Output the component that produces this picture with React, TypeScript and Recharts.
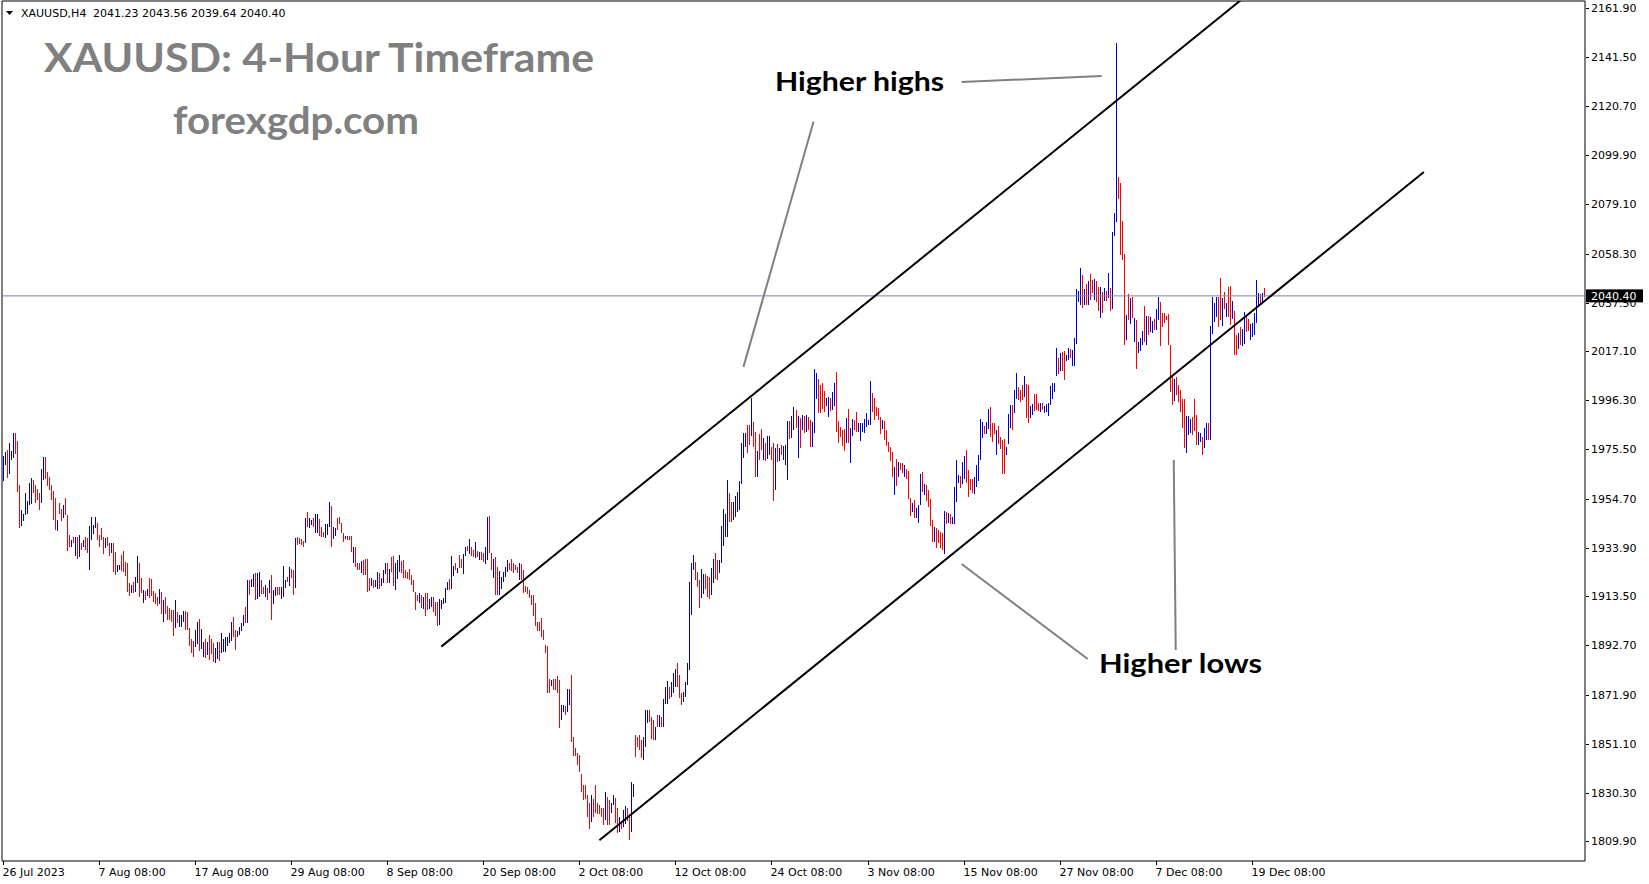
import React from 'react';
import { ComposedChart, Bar, XAxis, YAxis, ReferenceLine, ReferenceArea } from 'recharts';

// ---- H4 bars (high / low / up=1 blue, down=0 red) ----
const barHigh: number[] = [
  1972.7,1974.6,1975.3,1978.4,1974.8,1982.6,1982.6,1979.1,1960.5,1949.9,
  1948.2,1957.2,1953.8,1961.5,1963.6,1962.6,1960.5,1958.6,1957.2,1967.2,
  1972.3,1972.3,1966.1,1964.0,1960.5,1958.1,1954.8,1945.7,1953.0,1950.2,
  1952.0,1955.1,1947.8,1939.3,1937.2,1938.6,1938.6,1938.6,1939.3,1936.1,
  1937.2,1938.3,1937.9,1943.1,1946.8,1943.6,1946.8,1944.5,1939.3,1942.2,
  1938.3,1937.9,1938.3,1935.8,1935.8,1936.1,1932.2,1926.7,1926.7,1930.9,
  1932.6,1928.1,1927.6,1918.9,1918.1,1919.6,1921.7,1930.5,1927.4,1921.0,
  1916.1,1915.8,1916.4,1921.0,1920.6,1915.8,1915.0,1913.3,1916.4,1915.4,
  1911.9,1913.3,1909.3,1908.3,1907.6,1907.6,1911.9,1906.8,1905.5,1905.5,
  1907.3,1907.3,1906.9,1899.9,1895.2,1894.7,1899.2,1902.7,1903.7,1899.5,
  1894.3,1895.2,1894.0,1897.0,1895.5,1893.5,1891.5,1894.0,1894.0,1898.1,
  1895.5,1896.3,1896.3,1897.8,1902.7,1904.8,1899.2,1898.9,1900.6,1902.0,
  1905.5,1909.0,1920.3,1920.3,1920.6,1922.8,1923.4,1923.1,1923.8,1920.3,
  1917.5,1918.2,1916.8,1920.3,1922.4,1916.1,1917.2,1917.5,1917.5,1917.5,
  1926.2,1920.3,1921.7,1925.9,1924.8,1924.5,1937.9,1938.6,1937.9,1937.5,
  1936.9,1946.4,1949.1,1946.4,1945.7,1946.4,1948.2,1948.2,1945.9,1942.9,
  1940.6,1944.0,1944.0,1953.4,1951.6,1942.9,1942.2,1946.4,1946.8,1944.5,
  1940.3,1938.9,1938.9,1938.9,1938.9,1934.1,1934.4,1927.6,1927.4,1928.3,
  1928.8,1929.0,1929.0,1921.0,1921.0,1920.3,1920.3,1923.8,1923.4,1921.0,
  1924.5,1927.6,1927.4,1924.8,1930.2,1930.5,1927.4,1928.8,1930.9,1928.3,
  1928.8,1924.5,1923.8,1924.8,1922.4,1920.3,1915.4,1914.0,1915.0,1914.0,
  1913.3,1914.7,1914.7,1912.1,1913.3,1913.3,1911.2,1911.2,1912.1,1911.9,
  1912.6,1916.8,1919.6,1920.7,1930.5,1926.2,1927.4,1925.2,1930.9,1929.0,
  1931.3,1934.1,1934.7,1937.5,1934.1,1933.0,1936.5,1932.7,1932.3,1932.3,
  1931.9,1934.4,1947.1,1947.4,1931.6,1929.0,1930.2,1925.9,1924.2,
  1921.7,1923.8,1925.9,1928.7,1927.6,1929.0,1927.3,1926.6,1925.6,1927.3,
  1927.0,1924.5,1917.7,1917.2,1916.1,1913.9,1913.9,1910.4,1902.7,1902.7,
  1904.4,1899.1,1892.8,1892.4,1878.3,1878.0,1878.3,1878.3,1879.7,1878.0,
  1867.4,1867.4,1867.0,1874.1,1874.1,1880.1,1854.0,1849.1,1847.0,1846.3,
  1838.5,1833.6,1833.6,1829.4,1826.2,1829.4,1827.6,1833.6,1826.2,1825.2,
  1823.8,1823.8,1830.8,1828.7,1827.3,1825.9,1829.4,1828.0,1823.8,1820.2,
  1818.1,1823.1,1824.8,1823.8,1821.6,1835.0,1834.0,1854.8,1854.0,1854.8,
  1852.6,1854.0,1865.3,1865.3,1865.3,1862.5,1861.1,1858.3,1863.2,1863.2,
  1862.5,1870.2,1875.2,1877.7,1875.2,1877.3,1880.8,1882.9,1885.3,1880.1,
  1872.4,1873.1,1877.3,1885.3,1919.6,1927.3,1930.8,1928.0,1923.8,1920.3,
  1924.8,1922.8,1922.7,1922.0,1921.7,1925.2,1929.0,1931.8,1928.7,1928.7,
  1943.1,1950.2,1948.0,1962.6,
  1956.9,1953.4,1953.4,1955.8,1957.6,1962.3,1978.1,1982.3,1982.6,1985.8,
  1985.8,1997.1,1987.2,1983.0,1975.0,1982.0,1984.0,1980.2,1978.1,1981.2,
  1981.2,1976.6,1978.1,1976.0,1977.8,1976.0,1977.4,1977.0,1977.4,1987.6,
  1987.6,1989.6,1993.3,1992.1,1989.6,1988.6,1990.0,1989.6,1990.0,1989.0,
  1987.9,1987.2,2009.3,2007.6,2005.1,2002.7,2003.4,2000.3,1997.1,1997.8,
  1997.1,1999.9,2003.7,2008.2,1987.6,1985.1,1983.7,1984.0,1988.6,1992.4,
  1984.4,1988.2,1987.9,1991.4,1986.8,1986.5,1986.8,1988.2,1990.7,1987.9,
  2004.5,1999.5,1997.1,1993.3,1992.8,1989.0,1987.9,1987.6,1983.7,1978.8,
  1976.6,1974.5,1968.2,1971.3,1970.3,1969.9,1969.6,1968.9,1967.1,1966.5,
  1954.8,1952.7,1954.1,1950.6,1952.0,1965.1,1966.1,1960.9,1960.4,1958.3,
  1954.4,1945.6,1942.8,1942.1,1941.4,1940.7,1940.3,1949.6,1949.2,1948.7,
  1948.2,1947.1,1959.7,1971.0,1964.7,1964.2,1970.3,1972.7,1975.2,1966.8,
  1962.8,1962.8,1964.0,1968.9,1973.1,1988.2,1987.2,1985.4,1987.2,1992.4,
  1993.3,1986.8,1986.8,1983.7,1985.4,1980.9,1979.5,1979.8,1976.4,1990.5,
  1994.3,1994.3,2000.6,2007.9,2001.7,2000.6,2002.7,2006.5,2003.1,2002.7,
  1993.8,1994.7,1998.9,1998.9,1995.2,1995.2,1995.2,1993.8,1994.7,1995.0,
  2002.3,2003.7,2003.7,2018.2,2014.0,2016.1,2016.8,2017.2,2015.4,2018.2,
  2017.8,2017.5,2022.4,
  2043.2,2042.6,2052.0,2049.2,2043.2,2045.4,2046.8,2049.6,2047.1,2047.4,
  2046.8,2044.0,2044.3,2042.2,2043.6,2042.6,2049.9,2043.6,2067.5,2075.3,
  2147.1,2090.8,2088.2,2072.2,2058.1,2032.3,2041.2,2039.3,2039.8,2030.9,
  2030.2,2021.0,2022.4,2025.7,2036.1,2031.9,2031.9,2031.3,2029.9,2030.5,
  2034.7,2040.1,2038.0,2033.0,2033.3,2031.9,2032.7,2019.6,2006.2,2005.1,
  2006.2,2002.7,2000.6,1996.7,1996.7,1989.6,1989.6,1988.2,1989.3,1996.7,
  1990.0,1983.0,1982.6,1980.9,1984.4,1986.8,1986.5,2027.7,2040.1,2037.5,
  2040.1,2040.1,2047.8,2039.4,2042.2,2037.5,2044.3,2044.6,2038.4,2034.1,
  2023.8,2024.8,2027.4,2026.2,2033.7,2032.3,2030.5,2028.5,2029.1,2033.0,
  2047.1,2041.5,2041.2,2041.5,2043.56,
];

const barLow: number[] = [
  1962.3,1969.3,1963.6,1965.1,1970.8,1972.2,1973.9,1957.7,1942.4,1943.3,
  1945.4,1947.8,1948.5,1952.0,1952.4,1957.0,1952.7,1954.1,1949.9,1953.0,
  1962.6,1962.9,1960.0,1958.4,1954.1,1945.7,1941.2,1941.2,1948.5,1945.0,
  1946.4,1947.8,1932.7,1934.4,1934.4,1936.1,1930.5,1929.3,1930.2,1933.0,
  1934.4,1933.0,1931.6,1924.5,1937.2,1940.0,1942.2,1937.5,1934.4,1937.2,
  1931.3,1933.7,1934.7,1930.5,1931.6,1923.8,1922.4,1923.8,1924.5,1924.3,
  1923.8,1922.0,1915.4,1913.5,1914.9,1914.9,1915.4,1919.2,1913.0,1914.7,
  1910.5,1911.9,1913.3,1912.6,1913.3,1911.2,1910.2,1909.7,1910.2,1905.9,
  1902.7,1906.2,1903.4,1903.4,1902.7,1896.4,1899.9,1902.0,1900.3,1900.3,
  1902.7,1899.2,1899.2,1892.1,1889.3,1887.9,1892.1,1893.5,1890.0,1891.0,
  1888.0,1887.2,1888.5,1886.5,1889.0,1885.5,1885.2,1887.0,1886.0,1889.5,
  1890.0,1890.0,1892.5,1893.5,1894.7,1896.4,1890.8,1896.4,1897.1,1898.5,
  1900.9,1902.3,1902.3,1914.0,1917.2,1917.5,1911.9,1911.9,1913.3,1914.4,
  1914.7,1913.3,1911.9,1915.0,1903.4,1910.2,1913.3,1914.0,1914.0,1912.6,
  1913.0,1916.8,1919.6,1917.8,1921.0,1914.0,1916.6,1935.1,1935.5,1935.1,
  1934.4,1935.8,1942.9,1942.2,1943.6,1942.4,1940.0,1940.0,1938.9,1938.6,
  1938.6,1937.9,1939.3,1942.9,1934.4,1937.9,1938.9,1941.2,1944.0,1940.3,
  1936.5,1937.5,1937.2,1937.2,1932.3,1927.4,1925.9,1924.8,1924.3,1923.1,
  1922.4,1922.4,1915.0,1915.4,1917.5,1916.8,1917.5,1916.8,1916.8,1917.5,
  1919.2,1923.1,1918.9,1918.9,1923.8,1917.8,1916.1,1920.6,1923.8,1923.1,
  1921.0,1921.0,1921.0,1920.3,1918.2,1915.4,1907.6,1911.6,1910.7,1908.3,
  1908.3,1905.1,1907.6,1907.9,1909.0,1906.9,1905.1,1900.9,1900.9,1907.9,
  1910.2,1910.5,1916.4,1916.1,1916.4,1922.0,1924.3,1923.1,1925.2,1925.2,
  1922.8,1930.2,1932.7,1931.3,1930.2,1930.2,1929.9,1930.2,1928.8,1928.8,
  1928.1,1927.4,1928.8,1931.6,1924.3,1921.0,1914.0,1913.9,1913.9,
  1916.8,1919.6,1921.7,1923.8,1924.5,1923.8,1923.1,1924.5,1923.1,1920.3,
  1920.3,1914.9,1915.3,1914.4,1912.6,1909.7,1905.1,1900.6,1899.1,1898.9,
  1896.3,1894.9,1889.3,1872.4,1872.4,1875.5,1873.8,1873.5,1872.4,1857.6,
  1861.1,1864.6,1863.2,1864.2,1867.4,1851.9,1845.9,1845.6,1842.1,1839.3,
  1830.8,1827.3,1827.6,1820.2,1815.3,1818.1,1820.2,1821.6,1821.6,1821.6,
  1820.2,1816.7,1818.8,1816.7,1816.7,1821.6,1825.2,1817.4,1813.2,1813.9,
  1815.3,1816.0,1817.4,1818.1,1810.4,1813.9,1828.7,1845.6,1849.8,1848.4,
  1844.9,1844.2,1849.8,1859.7,1860.4,1853.3,1852.6,1852.6,1858.3,1858.3,
  1858.3,1858.3,1868.1,1868.1,1870.2,1871.0,1872.4,1875.2,1875.2,1870.2,
  1867.4,1868.9,1871.0,1875.9,1882.2,1905.5,1924.5,1920.3,1917.5,1908.3,
  1912.6,1914.4,1916.3,1913.2,1912.5,1913.9,1918.9,1921.0,1920.3,1923.1,
  1927.3,1934.4,1938.3,1938.3,
  1944.5,1944.9,1945.7,1947.1,1949.2,1949.9,1960.9,1971.7,1976.6,1973.8,
  1977.4,1980.9,1976.6,1964.0,1964.0,1971.0,1975.2,1971.0,1970.3,1971.3,
  1973.1,1971.0,1953.4,1958.3,1970.3,1970.7,1973.1,1971.0,1968.9,1962.6,
  1980.2,1980.2,1983.7,1984.4,1971.7,1975.9,1983.7,1982.3,1983.0,1983.7,
  1976.6,1976.6,1982.3,1996.6,1990.7,1990.7,1992.4,1991.4,1993.6,1989.3,
  1991.4,1992.1,1993.8,1983.0,1978.1,1980.9,1976.9,1974.9,1978.1,1978.1,
  1969.6,1980.9,1983.7,1983.0,1983.0,1978.8,1983.0,1982.3,1984.8,1985.8,
  1985.8,1991.4,1987.9,1989.6,1987.9,1982.0,1984.0,1979.5,1976.9,1974.5,
  1970.7,1964.0,1956.2,1959.7,1964.0,1967.1,1965.4,1964.0,1962.8,1954.8,
  1947.1,1948.7,1946.4,1946.4,1944.5,1952.0,1957.6,1956.2,1953.8,1951.3,
  1942.8,1936.5,1936.5,1933.7,1935.8,1934.1,1933.0,1931.6,1944.2,1944.5,
  1944.0,1944.2,1944.2,1953.4,1961.2,1959.0,1961.2,1962.8,1961.2,1955.2,
  1958.3,1956.9,1956.9,1959.7,1961.9,1971.0,1980.6,1982.0,1982.3,1984.0,
  1980.6,1978.8,1982.3,1973.1,1977.8,1975.9,1965.1,1965.1,1973.1,1977.8,
  1984.4,1983.7,1990.7,1996.7,1996.1,1995.7,1996.4,1997.8,1988.6,1986.5,
  1988.6,1990.0,1991.9,1992.1,1991.9,1991.4,1992.1,1990.7,1991.4,1989.3,
  1994.3,1997.1,1999.9,2006.2,2007.4,2008.3,2008.8,2005.1,2013.0,2013.3,
  2014.0,2010.7,2010.7,
  2020.0,2037.9,2036.5,2035.1,2036.5,2036.5,2036.5,2038.6,2041.4,2038.4,
  2037.9,2033.7,2031.3,2033.3,2037.9,2038.4,2039.4,2033.7,2035.1,2065.4,
  2071.3,2081.6,2057.7,2055.8,2019.6,2021.7,2030.2,2028.1,2030.9,2020.6,
  2009.3,2016.4,2016.8,2019.6,2021.0,2019.6,2023.8,2024.8,2024.8,2026.0,
  2026.0,2030.2,2019.6,2027.1,2029.0,2030.2,2019.6,1999.9,1994.3,1995.7,
  1998.5,1995.7,1991.4,1984.4,1975.9,1974.0,1981.6,1982.3,1981.6,1983.0,
  1977.4,1977.4,1978.8,1973.5,1975.9,1979.5,1979.5,1979.5,2024.5,2029.5,
  2031.6,2027.4,2030.2,2027.4,2035.1,2031.6,2031.6,2028.1,2030.9,2015.4,
  2015.4,2018.2,2019.6,2018.9,2020.3,2025.3,2025.3,2021.7,2023.1,2023.8,
  2028.8,2035.8,2036.5,2037.2,2039.64,
];

const barUp: number[] = [
  1,1,0,1,1,1,0,0,0,1, 1,1,1,1,1,0,0,0,0,1, 1,0,0,0,0,0,0,1,0,0, 1,0,0,0,1,0,1,0,1,0,
  1,0,0,1,1,1,1,0,0,0, 0,1,0,0,1,0,0,1,1,0, 0,0,0,0,1,0,1,1,0,0, 1,0,1,0,0,0,0,0,1,0,
  1,0,0,0,0,0,1,0,1,1, 1,0,0,0,0,0,1,1,0,1, 1,0,1,0,0,0,1,1,0,1, 1,1,1,1,1,0,0,1,1,1,
  1,0,1,0,1,1,0,1,1,0, 0,1,0,1,0,1,1,0,0,1, 1,1,0,1,0,0,1,0,0,0, 0,1,0,1,1,0,1,1,0,0,
  0,1,1,1,0,1,1,0,0,0, 0,1,0,0,0,1,0,0,0,1, 0,0,0,0,1,0,1,1,0,1, 1,1,0,1,0,0,1,1,1,0,
  0,0,0,0,0,0,0,0,1,0, 1,0,0,1,1,0,0,0,1,1, 1,1,1,0,1,1,0,1,0,0, 1,1,0,1,0,0,1,0,1,0,
  0,1,1,0,0,1,0,0,1,
  1,1,1,1,0,0,0,0,0,1, 0,0,0,0,0,0,0,0,0,0, 0,0,0,0,0,1,0,0,0,0, 1,1,0,1,1,0,0,0,0,0,
  0,0,0,0,0,1,0,0,0,0, 0,0,1,0,0,1,1,0,0,1, 0,1,1,0,0,1,1,0,0,0, 0,1,1,1,0,0,0,1,0,1,
  0,1,1,1,0,1,1,1,0,0, 0,1,1,1,1,1,1,0,0,0, 1,1,0,0,0,1,1,0,0,1,
  1,1,1,1,
  0,0,1,1,1,1,1,1,1,0, 0,1,0,0,1,0,0,1,0,1, 1,0,0,1,0,1,0,1,1,1, 0,1,1,0,1,0,1,0,1,0,
  0,1,1,1,0,0,0,0,1,1, 0,1,1,0,0,0,0,0,1,0, 1,1,0,0,1,1,1,1,1,1, 1,0,0,0,0,0,1,0,0,0,
  0,0,1,0,1,0,0,1,0,0, 0,1,0,1,1,1,0,1,0,0, 0,0,1,0,0,0,0,1,0,1, 0,1,1,1,1,0,1,1,0,0,
  0,0,1,1,1,1,1,0,1,1, 0,0,0,1,0,0,0,0,1,1, 1,0,1,1,0,0,0,1,0,0, 1,1,0,0,0,1,0,1,1,1,
  1,1,1,1,0,1,0,0,1,1,
  0,1,1,
  1,1,1,0,1,0,1,0,0,1, 0,0,1,0,1,0,1,0,1,1, 1,0,0,0,0,1,0,1,0,1, 0,1,1,1,0,1,0,1,1,0,
  1,1,0,0,0,0,0,0,0,1, 0,0,0,0,0,1,1,1,0,0, 0,1,1,0,1,1,0,1,1,1, 1,0,0,1,0,1,0,0,1,0,
  0,1,0,1,1,0,0,1,1,1,
  1,1,0,1,0,
];

// ---- axes ----
const xTickLabels = [
  '26 Jul 2023', '7 Aug 08:00', '17 Aug 08:00', '29 Aug 08:00', '8 Sep 08:00', '20 Sep 08:00',
  '2 Oct 08:00', '12 Oct 08:00', '24 Oct 08:00', '3 Nov 08:00', '15 Nov 08:00', '27 Nov 08:00',
  '7 Dec 08:00', '19 Dec 08:00',
];
const X_TICK_STEP = 48;
const TOTAL_SLOTS = 791; // bars + empty chart shift on the right
const yTickValues = [
  2161.9, 2141.5, 2120.7, 2099.9, 2079.1, 2058.3, 2037.5, 2017.1, 1996.3,
  1975.5, 1954.7, 1933.9, 1913.5, 1892.7, 1871.9, 1851.1, 1830.3, 1809.9,
];
const lastPrice = 2040.4;
const Y_MIN = 1801.55;
const Y_MAX = 2165.03;

const headerSymbol = 'XAUUSD,H4';
const lastBarOHLC = [2041.23, 2043.56, 2039.64, 2040.4];

// ---- drawn objects (bar index, price) ----
const upperChannel = [{ x: 219, y: 1892.15 }, { x: 630, y: 2173.25 }];
const lowerChannel = [{ x: 298, y: 1810.34 }, { x: 710, y: 2092.79 }];
const highsPointerA = [{ x: 479, y: 2130.8 }, { x: 549, y: 2133.3 }];
const highsPointerB = [{ x: 405, y: 2114.0 }, { x: 370, y: 2010.4 }];
const lowsPointerA = [{ x: 542, y: 1886.9 }, { x: 479, y: 1927.05 }];
const lowsPointerB = [{ x: 585, y: 1971.0 }, { x: 586, y: 1890.7 }];

const UP_COLOR = '#0000CC';
const DOWN_COLOR = '#FF0000';
const TICK_FONT = 'DejaVu Sans, Verdana, sans-serif';

const nBars = Math.min(barHigh.length, barLow.length, barUp.length);
const data = Array.from({ length: TOTAL_SLOTS }, (_, i) =>
  i < nBars
    ? { i, range: [barLow[i], barHigh[i]], up: barUp[i] }
    : { i, range: null, up: 0 }
);

const BarShape = (props: any) => {
  const { x, y, width, height, payload } = props;
  if (!payload || payload.range == null) return null;
  const left = Math.round(x + width / 2 - 0.5);
  const top = Math.round(Math.min(y, y + height));
  const h = Math.max(Math.round(Math.abs(height)), 1);
  return (
    <rect x={left} y={top} width={1} height={h} fill={payload.up ? UP_COLOR : DOWN_COLOR}
      shapeRendering="crispEdges" />
  );
};

const XTick = (props: any) => {
  const { x, y, payload } = props;
  const v = Number(payload.value);
  if (v % X_TICK_STEP !== 0) return null;
  const label = xTickLabels[v / X_TICK_STEP];
  if (!label) return null;
  const px = Math.round(x) + 0.5;
  return (
    <g>
      <line x1={px} x2={px} y1={y} y2={y + 4} stroke="#000" strokeWidth={1} />
      <text x={px - 1} y={y + 15} fontFamily={TICK_FONT} fontSize={11} fill="#000">
        {label}
      </text>
    </g>
  );
};

const YTick = (props: any) => {
  const { x, y, payload } = props;
  const v = Number(payload.value);
  const py = Math.round(y) + 0.5;
  if (v === lastPrice) {
    return (
      <g>
        <rect x={x + 1} y={y - 6.5} width={57} height={13} fill="#000" />
        <text x={x + 6} y={y + 4} fontFamily={TICK_FONT} fontSize={11} fill="#fff">
          {v.toFixed(2)}
        </text>
      </g>
    );
  }
  return (
    <g>
      <line x1={x + 1} x2={x + 4} y1={py} y2={py} stroke="#000" strokeWidth={1} />
      <text x={x + 6} y={y + 4} fontFamily={TICK_FONT} fontSize={11} fill="#000">
        {v.toFixed(2)}
      </text>
    </g>
  );
};

export default function App() {
  const headerNums = lastBarOHLC.map((v) => v.toFixed(2)).join(' ');
  return (
    <div style={{ position: 'absolute', left: 0, top: 0, width: 1649, height: 884, background: '#fff', overflow: 'hidden' }}>
      <ComposedChart
        width={1649}
        height={884}
        data={data}
        margin={{ top: 1, right: 0, bottom: 0, left: 2 }}
        barCategoryGap={0}
        barGap={0}
      >
        <XAxis
          dataKey="i"
          type="category"
          interval={X_TICK_STEP - 1}
          height={23}
          tickSize={0}
          tickMargin={0}
          axisLine={false}
          tickLine={false}
          tick={<XTick />}
        />
        <YAxis
          orientation="right"
          type="number"
          domain={[Y_MIN, Y_MAX]}
          allowDataOverflow
          ticks={[...yTickValues, lastPrice]}
          interval={0}
          width={64}
          tickSize={0}
          tickMargin={0}
          axisLine={false}
          tickLine={false}
          tick={<YTick />}
        />
        <ReferenceLine y={lastPrice} stroke="#778899" strokeWidth={1} />
        <Bar dataKey="range" barSize={1} isAnimationActive={false} shape={<BarShape />} />
        <ReferenceLine segment={upperChannel} stroke="#000" strokeWidth={2} ifOverflow="hidden" />
        <ReferenceLine segment={lowerChannel} stroke="#000" strokeWidth={2} ifOverflow="hidden" />
        <ReferenceLine segment={highsPointerA} stroke="#808080" strokeWidth={2} ifOverflow="hidden" />
        <ReferenceLine segment={highsPointerB} stroke="#808080" strokeWidth={2} ifOverflow="hidden" />
        <ReferenceLine segment={lowsPointerA} stroke="#808080" strokeWidth={2} ifOverflow="hidden" />
        <ReferenceLine segment={lowsPointerB} stroke="#808080" strokeWidth={2} ifOverflow="hidden" />
        <ReferenceArea y1={Y_MIN} y2={Y_MAX} fill="none" stroke="#000" strokeWidth={1} ifOverflow="visible" />
      </ComposedChart>
      <svg
        width={1649}
        height={884}
        style={{ position: 'absolute', left: 0, top: 0, pointerEvents: 'none' }}
      >
        <polygon points="6,11 13,11 9.5,15" fill="#000" />
        <text x={21} y={17} fontFamily={TICK_FONT} fontSize={11} fill="#000">{headerSymbol}</text>
        <text x={93} y={17} fontFamily={TICK_FONT} fontSize={11} fill="#000">{headerNums}</text>
        <text x={44} y={72} fontFamily="Lato, 'Open Sans', sans-serif" fontWeight={700} fontSize={41}
          fill="#808080" textLength={550} lengthAdjust="spacingAndGlyphs">XAUUSD: 4-Hour Timeframe</text>
        <text x={173} y={134} fontFamily="Lato, 'Open Sans', sans-serif" fontWeight={700} fontSize={38}
          fill="#808080" textLength={246} lengthAdjust="spacingAndGlyphs">forexgdp.com</text>
        <text x={775} y={91} fontFamily="Lato, 'Open Sans', sans-serif" fontWeight={700} fontSize={27}
          fill="#000" textLength={169} lengthAdjust="spacingAndGlyphs">Higher highs</text>
        <text x={1099} y={673} fontFamily="Lato, 'Open Sans', sans-serif" fontWeight={700} fontSize={27}
          fill="#000" textLength={163} lengthAdjust="spacingAndGlyphs">Higher lows</text>
      </svg>
    </div>
  );
}
